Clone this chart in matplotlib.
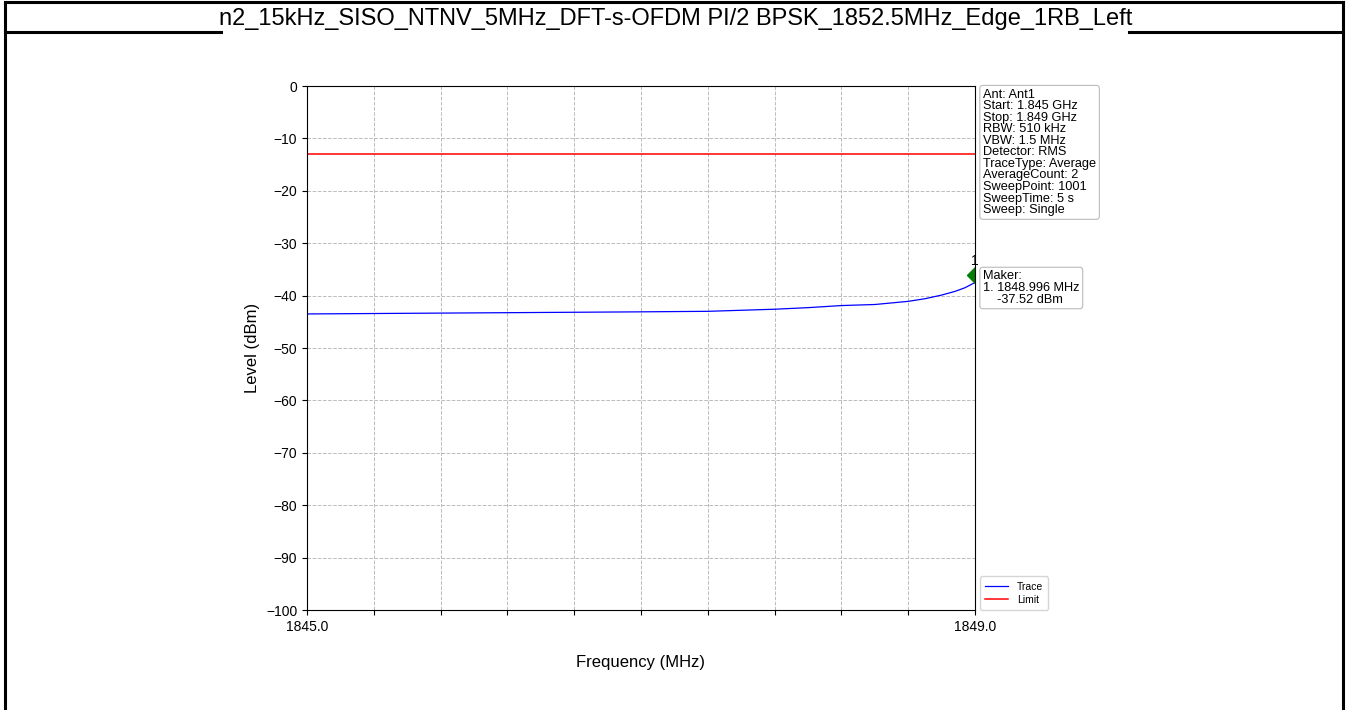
import matplotlib.pyplot as plt
from matplotlib.lines import Line2D
import numpy as np

plt.rcParams['font.family'] = ['Liberation Sans', 'DejaVu Sans']

# data
title = "n2_15kHz_SISO_NTNV_5MHz_DFT-s-OFDM PI/2 BPSK_1852.5MHz_Edge_1RB_Left"
freq_mhz = [1845.0, 1845.5, 1846.0, 1846.5, 1847.0, 1847.4, 1847.6, 1847.8, 1848.0,
            1848.2, 1848.4, 1848.6, 1848.7, 1848.8, 1848.88, 1848.94, 1849.0]
level_dbm = [-43.5, -43.4, -43.3, -43.2, -43.1, -43.0, -42.8, -42.6, -42.3,
             -41.9, -41.7, -41.1, -40.6, -39.9, -39.2, -38.5, -37.5]
limit_dbm = -13.0
marker_freq = 1849.0
marker_level = -36.0
info_lines = ["Ant: Ant1", "Start: 1.845 GHz", "Stop: 1.849 GHz", "RBW: 510 kHz",
              "VBW: 1.5 MHz", "Detector: RMS", "TraceType: Average",
              "AverageCount: 2", "SweepPoint: 1001", "SweepTime: 5 s", "Sweep: Single"]
maker_lines = ["Maker:", "1. 1848.996 MHz", "    -37.52 dBm"]
x_ticks = np.linspace(1845.0, 1849.0, 11)
x_ticklabels = ["1845.0"] + [""] * 9 + ["1849.0"]
y_ticks = list(range(-100, 1, 10))

W, H = 1346, 710
fig = plt.figure(figsize=(W / 100, H / 100), dpi=100)

# table frame around the picture (open at the bottom)
def seg(x0, y0, x1, y1, lw=2.2):
    fig.add_artist(Line2D([x0 / W, x1 / W], [1 - y0 / H, 1 - y1 / H],
                          color="black", lw=lw, transform=fig.transFigure))

seg(5, 2, 1343, 2)
seg(5, 2, 5, 712)
seg(1343, 2, 1343, 712)
seg(5, 32, 221, 32)
seg(1129, 32, 1343, 32)
fig.text(676 / W, 1 - 19 / H, title, ha="center", va="center", fontsize=17)

ax = fig.add_axes([307 / W, 1 - 610 / H, 668 / W, 524 / H])
ax.plot(freq_mhz, level_dbm, color="blue", lw=0.9, label="Trace")
ax.axhline(limit_dbm, color="red", lw=1.1, label="Limit")
ax.plot([marker_freq], [marker_level], marker="D", color="green", ms=8, ls="none")
ax.text(marker_freq, marker_level + 1.3, "1", ha="center", va="bottom", fontsize=10,
        clip_on=False)

ax.set_xlim(1845.0, 1849.0)
ax.set_ylim(-100, 0)
ax.set_xticks(x_ticks)
ax.set_xticklabels(x_ticklabels)
ax.set_yticks(y_ticks)
ax.tick_params(labelsize=10)
ax.grid(True, ls="--", lw=0.7, color="#bbbbbb")
ax.set_xlabel("Frequency (MHz)", fontsize=12, labelpad=15)
ax.set_ylabel("Level (dBm)", fontsize=12)

box = dict(boxstyle="round,pad=0.25", fc="white", ec="#bbbbbb", lw=0.8)
ax.text(1.012, 0.995, "\n".join(info_lines), transform=ax.transAxes, ha="left",
        va="top", fontsize=9.2, linespacing=0.95, bbox=box)
ax.text(1.012, 0.648, "\n".join(maker_lines), transform=ax.transAxes, ha="left",
        va="top", fontsize=9.2, linespacing=0.95, bbox=box)

ax.legend(loc="lower left", bbox_to_anchor=(1.0, -0.01), fontsize=7.5, frameon=True,
          handlelength=2.2, borderpad=0.5, labelspacing=0.3)

fig.savefig("out.png", dpi=100)
